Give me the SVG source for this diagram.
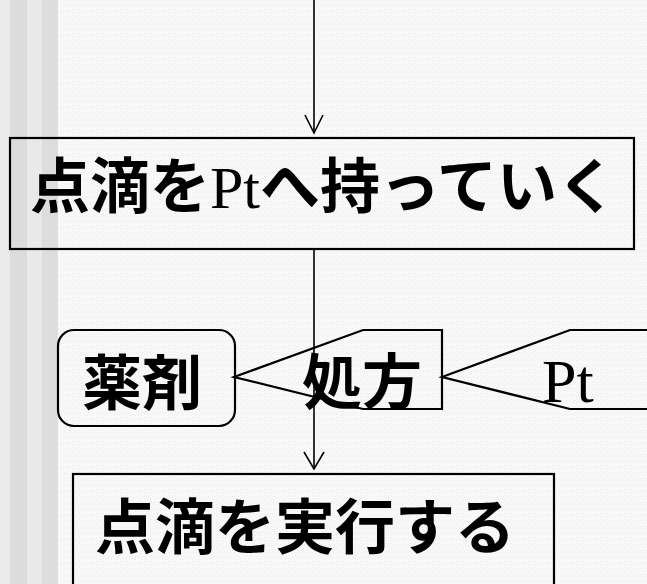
<svg xmlns="http://www.w3.org/2000/svg" width="647" height="584" viewBox="0 0 647 584">
  <defs>
    <pattern id="tex" width="6" height="6" patternUnits="userSpaceOnUse">
      <rect width="6" height="6" fill="#f8f8f8"/>
      <rect x="0" y="0" width="1" height="1" fill="#ececec"/>
      <rect x="3" y="1" width="1" height="1" fill="#f0f0f0"/>
      <rect x="1" y="3" width="1" height="1" fill="#eeeeee"/>
      <rect x="4" y="4" width="1" height="1" fill="#ededed"/>
      <rect x="5" y="2" width="1" height="1" fill="#ffffff"/>
      <rect x="2" y="5" width="1" height="1" fill="#f0f0f0"/>
      <rect x="2" y="2" width="1" height="1" fill="#ffffff"/>
    </pattern>
  </defs>
  <style>
    .box { fill: none; stroke: #000; stroke-width: 2.2; }
    .conn { fill: none; stroke: #000; stroke-width: 1.6; }
    .cjk { font-family: "Noto Sans CJK JP", sans-serif; font-size: 60px; font-weight: bold; fill: #000; }
    .mix { font-family: "Liberation Serif", "Noto Sans CJK JP", serif; font-size: 60px; fill: #000; }
    .b { font-weight: bold; }
  </style>
  <rect width="647" height="584" fill="url(#tex)"/>
  <g id="stripes">
    <rect x="0" y="0" width="10" height="584" fill="#eaeaea"/>
    <rect x="10" y="0" width="17" height="584" fill="#dcdcdc"/>
    <rect x="27" y="0" width="15" height="584" fill="#e9e9e9"/>
    <rect x="42" y="0" width="16" height="584" fill="#dddddd"/>
  </g>
  <g id="connectors">
    <line class="conn" x1="314" y1="0" x2="314" y2="133"/>
    <path class="conn" d="M305,115 L314,133 L323,115"/>
    <line class="conn" x1="314" y1="249" x2="314" y2="469"/>
    <path class="conn" d="M304,452 L314,469 L324,452"/>
  </g>
  <g id="node-top">
    <rect class="box" x="10" y="138" width="624" height="111"/>
    <text class="mix" x="30" y="208"><tspan class="b">点滴を</tspan>Pt<tspan class="b">へ持っていく</tspan></text>
  </g>
  <g id="node-yakuzai">
    <rect class="box" x="58" y="330" width="177" height="96" rx="16" ry="16"/>
    <text class="cjk" x="82" y="405">薬剤</text>
  </g>
  <g id="node-shohou">
    <polygon class="box" points="234,377 363,330 442,330 442,409 363,409"/>
    <text class="cjk" x="302" y="404">処方</text>
  </g>
  <g id="node-pt">
    <polygon class="box" points="442,377 570,330 650,330 650,409 570,409"/>
    <text style="font-family:'Liberation Serif',serif;font-size:62px;fill:#000" x="542" y="402">Pt</text>
  </g>
  <g id="node-bottom">
    <rect class="box" x="73" y="474" width="481" height="120"/>
    <text class="cjk" x="95" y="549">点滴を実行する</text>
  </g>
</svg>
